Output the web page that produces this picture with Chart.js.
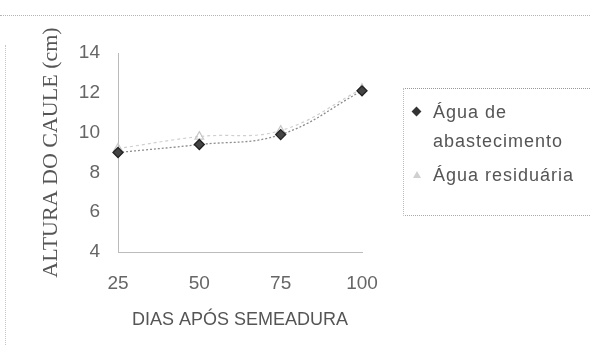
<!DOCTYPE html>
<html>
<head>
<meta charset="utf-8">
<script src="https://cdn.jsdelivr.net/npm/chart.js@4"></script>
<style>
  html, body { margin: 0; padding: 0; background: #fff; }
  #wrap { position: relative; width: 590px; height: 363px; overflow: hidden; }
  #chart { position: absolute; left: 0; top: 0; }
  .edgeTop { position: absolute; left: 0; top: 15px; width: 590px; border-top: 1px dotted #b5b5b5; }
  .edgeLeft { position: absolute; left: 5px; top: 45px; height: 300px; border-left: 1px dotted #c5c5c5; }
  #legend {
    position: absolute; left: 403px; top: 88px; width: 187px; height: 128px;
    border-top: 1px dotted #999; border-left: 1px dotted #bbb; border-bottom: 1px dotted #aaa;
    font-family: "Liberation Sans", Arial, sans-serif; font-size: 18px; color: #555;
    letter-spacing: 1px; box-sizing: border-box;
  }
  .item { position: absolute; left: 29px; line-height: 29px; }
  .mark { position: absolute; left: -20px; }
  .diamond { top: 10px; width: 7px; height: 7px; background: #333; transform: rotate(45deg); }
  .tri { top: 10px; width: 0; height: 0; border-left: 4px solid transparent; border-right: 4px solid transparent; border-bottom: 7px solid #d0d0d0; }
</style>
</head>
<body>
<div id="wrap">
  <canvas id="chart" width="590" height="363"></canvas>
  <div class="edgeTop"></div>
  <div class="edgeLeft"></div>
  <div id="legend"></div>
</div>
<script>
const days = ["25", "50", "75", "100"];
const abastecimento = [9.0, 9.4, 9.9, 12.1];
const residuaria = [9.2, 9.8, 10.1, 12.2];
const yTicks = [4, 6, 8, 10, 12, 14];
const seriesNames = ["Água de abastecimento", "Água residuária"];

const grey = "#666";

const chart = new Chart(document.getElementById("chart"), {
  type: "line",
  data: {
    labels: days,
    datasets: [
      {
        label: seriesNames[0],
        data: abastecimento,
        borderColor: "#8c8c8c",
        borderWidth: 1.3,
        borderDash: [2, 2],
        tension: 0.4,
        pointStyle: "rectRot",
        pointRadius: 5,
        pointBackgroundColor: "#444",
        pointBorderColor: "#222",
      },
      {
        label: seriesNames[1],
        data: residuaria,
        borderColor: "#cfcfcf",
        borderWidth: 1.2,
        borderDash: [3, 3],
        tension: 0.4,
        pointStyle: "triangle",
        pointRadius: 5,
        pointBackgroundColor: "rgba(0,0,0,0)",
        pointBorderColor: "#c8c8c8",
      },
    ],
  },
  options: {
    responsive: false,
    animation: false,
    layout: { padding: { top: 53, right: 228, left: 0, bottom: 0 } },
    plugins: { legend: { display: false }, tooltip: { enabled: false } },
    scales: {
      x: {
        type: "category",
        offset: false,
        grid: { display: false, drawTicks: false },
        border: { display: true, color: "#bbb", width: 1, dash: [1, 5] },
        ticks: {
          color: grey,
          padding: 20,
          maxRotation: 0,
          font: { family: "Liberation Sans", size: 19 },
        },
        title: {
          display: true,
          text: "DIAS APÓS SEMEADURA",
          color: "#555",
          font: { family: "Liberation Sans", size: 18 },
          padding: { top: 0, bottom: 32 },
        },
        afterFit: (s) => { s.height = 111; },
      },
      y: {
        min: 4,
        max: 14,
        grid: { display: false, drawTicks: false },
        border: { display: true, color: "#bbb", width: 1, dash: [1, 5] },
        afterBuildTicks: (s) => { s.ticks = yTicks.map((v) => ({ value: v })); },
        ticks: {
          color: grey,
          padding: 18,
          font: { family: "Liberation Sans", size: 19 },
        },
        title: {
          display: true,
          text: "ALTURA DO CAULE (cm)",
          color: "#555",
          font: { family: "Liberation Serif", size: 22 },
          padding: { top: 38, bottom: 0 },
        },
        afterFit: (s) => { s.width = 118; },
      },
    },
  },
});

// legend built from the dataset labels
const legend = document.getElementById("legend");
legend.innerHTML = `
  <div class="item" style="top:9px"><span class="mark diamond"></span>Água de<br>abastecimento</div>
  <div class="item" style="top:72px"><span class="mark tri"></span>${seriesNames[1]}</div>
`;
</script>
</body>
</html>
